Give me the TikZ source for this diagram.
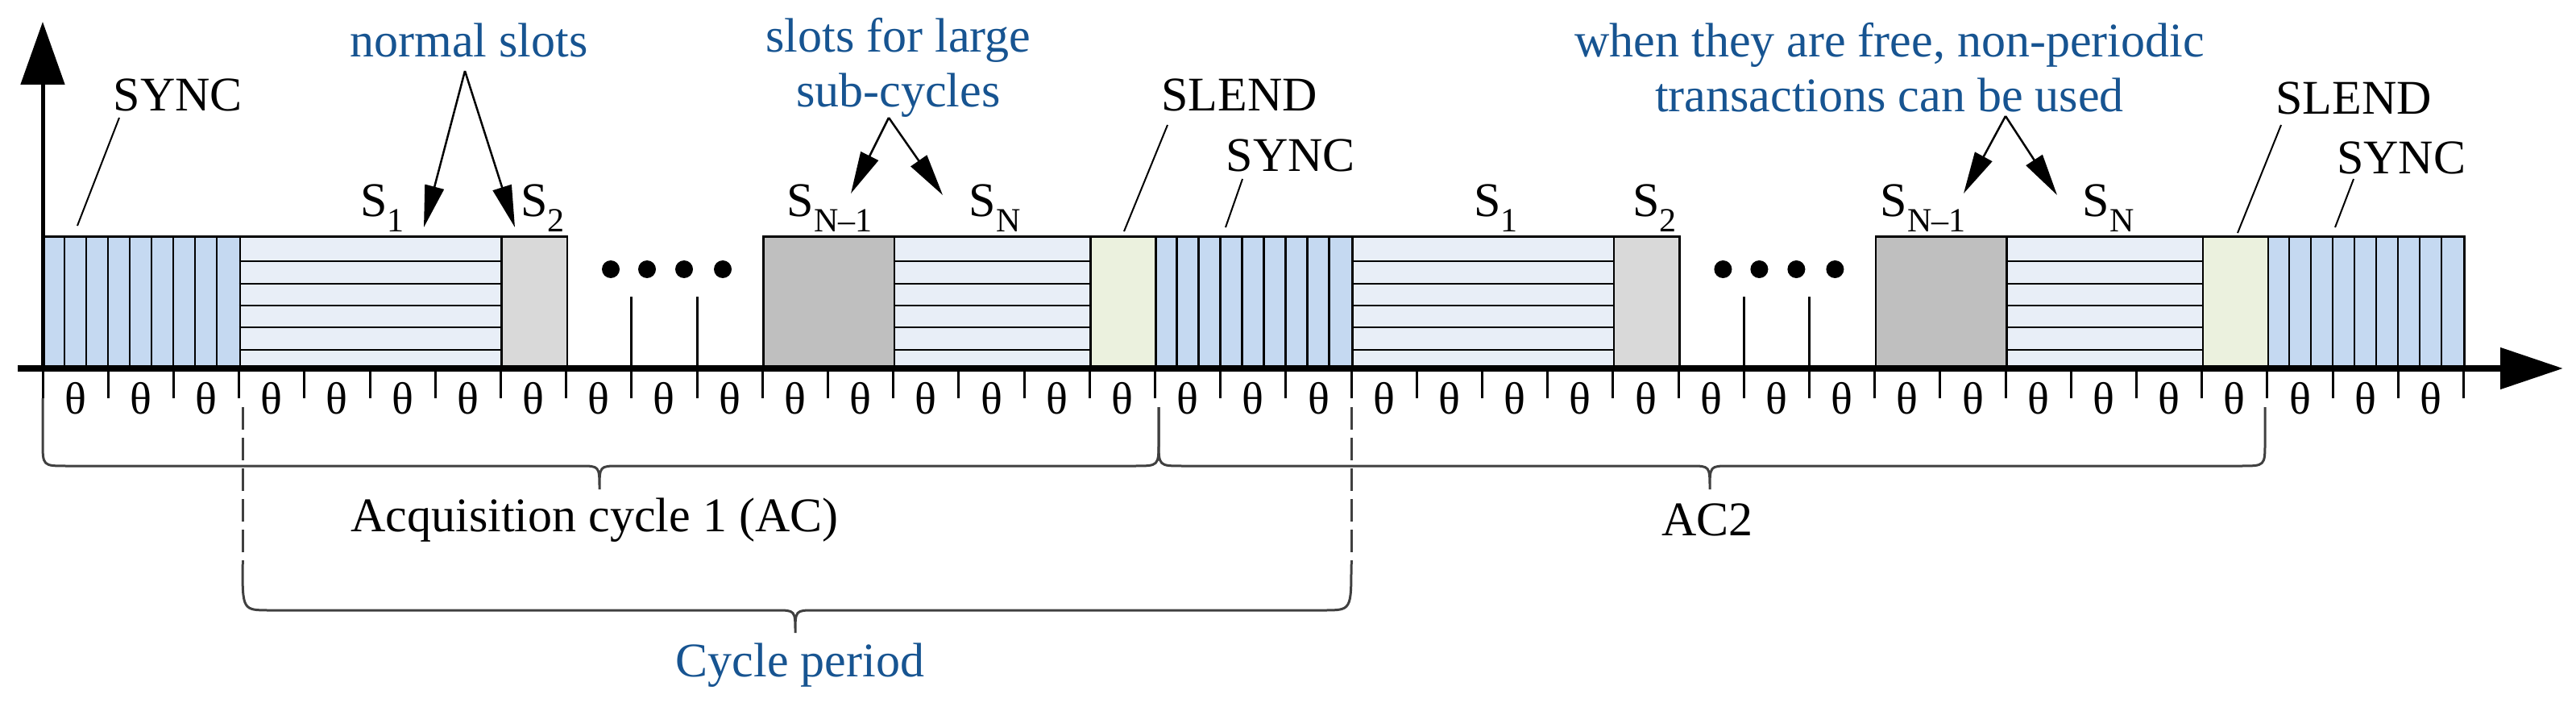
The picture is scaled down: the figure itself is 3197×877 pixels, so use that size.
\documentclass[tikz,border=0pt]{standalone}
\usepackage{fontspec}
\setmainfont{Liberation Serif}[Ligatures=TeX]
\newfontfamily\tnr{Liberation Serif}
\usetikzlibrary{arrows.meta}
\definecolor{syncc}{RGB}{197,217,241}
\definecolor{slotc}{RGB}{232,238,247}
\definecolor{s2c}{RGB}{217,217,217}
\definecolor{snc}{RGB}{191,191,191}
\definecolor{slendc}{RGB}{235,241,222}
\definecolor{bluet}{RGB}{23,84,145}
\begin{document}
\begin{tikzpicture}[x=1pt,y=-1pt,
  box/.style={draw=black,line width=2.5pt,inner sep=0pt,minimum height=162pt,anchor=south west},
  lbl/.style={font=\tnr\fontsize{60}{66}\selectfont,inner sep=0pt},
  blbl/.style={lbl,text=bluet,align=center},
  th/.style={font=\tnr\fontsize{56}{60}\selectfont,inner sep=0pt},
  hatch/.style={line width=2.5pt},
  lead/.style={line width=2pt},
  arr/.style={line width=2.5pt,-{Triangle[length=52pt,width=24pt]}},
  brace/.style={line width=3pt,black!75},
  tick/.style={line width=3pt}]
\useasboundingbox (0,0) rectangle (3197,877);
% slot boxes
\newcommand{\slot}[4]{\node[box,fill=#3,minimum width={81.2*(#2-#1)*1pt}] (#4) at ({53+81.2*#1},457) {};}
\newcommand{\hh}[1]{\foreach \yy in {324,352,379,406,434} \draw[hatch] (#1.west |- 0,\yy) -- (#1.east |- 0,\yy);}
\newcommand{\vv}[1]{\foreach \i in {1,...,8} \draw[hatch] ([xshift={27*\i*1pt}]#1.north west) -- ([xshift={27*\i*1pt}]#1.south west);}
\slot{0}{3}{syncc}{sync1}\vv{sync1}
\slot{3}{7}{slotc}{s1a}\hh{s1a}
\slot{7}{8}{s2c}{s2a}
\slot{11}{13}{snc}{snm1a}
\slot{13}{16}{slotc}{sna}\hh{sna}
\slot{16}{17}{slendc}{slend1}
\slot{17}{20}{syncc}{sync2}\vv{sync2}
\slot{20}{24}{slotc}{s1b}\hh{s1b}
\slot{24}{25}{s2c}{s2b}
\slot{28}{30}{snc}{snm1b}
\slot{30}{33}{slotc}{snb}\hh{snb}
\slot{33}{34}{slendc}{slend2}
\slot{34}{37}{syncc}{sync3}\vv{sync3}
% gap ticks and dots
\foreach \k in {9,10,26,27} \draw[tick] ({53+81.2*\k},368) -- ({53+81.2*\k},457);
\foreach \dx in {0,45,91,139} {\fill ({758+\dx},334) circle (11); \fill ({758+81.2*17+\dx},334) circle (11);}
% axes
\coordinate (o) at (53,460);
\coordinate (ytip) at (53,27);
\coordinate (xs) at (22,457);
\coordinate (xtip) at (3181,457);
\draw[line width=5pt,-{Triangle[length=78pt,width=54pt]}] (o) -- (ytip);
\draw[line width=8pt,-{Triangle[length=78pt,width=50pt]}] (xs) -- (xtip);
% cell ticks and thetas
\foreach \k in {0,...,37} \draw[tick] ({53+81.2*\k},457) -- ({53+81.2*\k},494);
\foreach \k in {0,...,36} \node[th] (t\k) at ({53+81.2*\k+40.6},494) {θ};
% braces
\draw[brace] (53,494) -- (53,548) .. controls (53,578) .. (83,578) -- (720,578) .. controls (744,578) .. (744,607) .. controls (744,578) .. (768,578) -- (1408,578) .. controls (1438,578) .. (1438,548) -- (1438,505);
\draw[brace] (1438,505) -- (1438,548) .. controls (1438,578) .. (1468,578) -- (2098,578) .. controls (2122,578) .. (2122,607) .. controls (2122,578) .. (2146,578) -- (2781,578) .. controls (2811,578) .. (2811,548) -- (2811,505);
\draw[brace,dash pattern=on 28pt off 10pt] (301,505) -- (301,700);
\draw[brace,dash pattern=on 28pt off 10pt] (1677,505) -- (1677,700);
\draw[brace] (301,700) .. controls (301,757) .. (335,757) -- (963,757) .. controls (987,757) .. (987,785) .. controls (987,757) .. (1011,757) -- (1643,757) .. controls (1677,757) .. (1677,700);
\node[lbl] (ac1) at (738,645) {Acquisition cycle 1 (AC)};
\node[lbl] (ac2) at (2119,645) {AC2};
\node[blbl] (cp) at (993,825) {Cycle period};
% slot labels
\node[lbl] (ls1a) at (475,258) {S\textsubscript{1}};
\node[lbl] (ls2a) at (674,258) {S\textsubscript{2}};
\node[lbl] (lsnm1a) at (1030,258) {S\textsubscript{N–1}};
\node[lbl] (lsna) at (1235,258) {S\textsubscript{N}};
\node[lbl] (ls1b) at (1857,258) {S\textsubscript{1}};
\node[lbl] (ls2b) at (2054,258) {S\textsubscript{2}};
\node[lbl] (lsnm1b) at (2387,258) {S\textsubscript{N–1}};
\node[lbl] (lsnb) at (2617,258) {S\textsubscript{N}};
% SYNC / SLEND labels with leaders
\node[lbl] (lsync1) at (221,118) {SYNC};
\coordinate (psync1) at (96,280);
\draw[lead] (148,146) -- (psync1);
\node[lbl] (lslend1) at (1538,118) {SLEND};
\coordinate (pslend1) at (1395,287);
\draw[lead] (1449,155) -- (pslend1);
\node[lbl] (lsync2) at (1602,193) {SYNC};
\coordinate (psync2) at (1521,282);
\draw[lead] (1542,222) -- (psync2);
\node[lbl] (lslend2) at (2921,122) {SLEND};
\coordinate (pslend2) at (2777,289);
\draw[lead] (2831,155) -- (pslend2);
\node[lbl] (lsync3) at (2980,196) {SYNC};
\coordinate (psync3) at (2898,282);
\draw[lead] (2921,222) -- (psync3);
% annotations
\node[blbl] (normal) at (582,50) {normal slots};
\coordinate (na1) at (526,282); \coordinate (na2) at (639,282);
\draw[arr] (577,88) -- (na1);
\draw[arr] (577,88) -- (na2);
\node[blbl,font=\tnr\fontsize{60}{68}\selectfont] (large) at (1115,84) {slots for large\\sub-cycles};
\coordinate (la1) at (1056,240); \coordinate (la2) at (1170,242);
\draw[arr] (1103,146) -- (la1);
\draw[arr] (1103,146) -- (la2);
\node[blbl,font=\tnr\fontsize{60}{68}\selectfont] (free) at (2345,84) {when they are free, non-periodic\\transactions can be used};
\coordinate (fa1) at (2437,240); \coordinate (fa2) at (2553,242);
\draw[arr] (2489,144) -- (fa1);
\draw[arr] (2489,144) -- (fa2);
\end{tikzpicture}
\end{document}
